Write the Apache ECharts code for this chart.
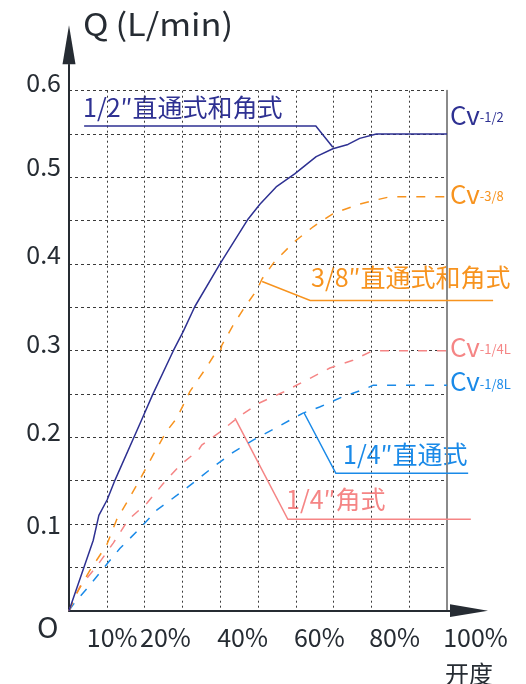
<!DOCTYPE html>
<html>
<head>
<meta charset="utf-8">
<script src="https://cdn.jsdelivr.net/npm/echarts@6/dist/echarts.min.js"></script>
<style>
html,body{margin:0;padding:0;background:#fff;}
#c{width:526px;height:684px;}
</style>
</head>
<body>
<div id="c"></div>
<script>
// ---- data (x: opening %, y: Q L/min) ----
const half = [[0,0],[6.4,0.081],[7.9,0.110],[10.1,0.128],[12.2,0.151],[19.2,0.22],[22.1,0.249],[27.6,0.30],[30.2,0.322],[33.3,0.351],[39.9,0.40],[47.4,0.452],[50.5,0.469],[54.8,0.489],[59.7,0.504],[65.4,0.524],[69.8,0.533],[73.8,0.538],[76.9,0.545],[81.3,0.55],[100,0.55]];
const threeEighth = [[0,0],[2,0.02],[5.6,0.047],[10,0.076],[12.6,0.105],[16.1,0.131],[19.2,0.155],[22.3,0.18],[25.8,0.207],[28.5,0.222],[32,0.253],[36.4,0.281],[38.7,0.297],[40,0.298],[40.4,0.306],[43.5,0.33],[46.6,0.351],[49.7,0.37],[51.1,0.383],[54.4,0.403],[59.7,0.426],[64.6,0.443],[69.8,0.458],[76,0.468],[80.3,0.473],[84.8,0.4775],[100,0.4775]];
const quarterAngle = [[0,0],[2.9,0.028],[7.3,0.051],[11.7,0.078],[15.7,0.105],[20.6,0.124],[25,0.147],[29.4,0.168],[34.2,0.185],[35.1,0.191],[39.9,0.206],[45,0.224],[50.5,0.24],[56.6,0.252],[62.8,0.266],[69,0.28],[75.1,0.289],[80.4,0.30],[100,0.30]];
const quarterStraight = [[0,0],[1.1,0.007],[5.6,0.03],[9.5,0.051],[13.5,0.072],[18.3,0.093],[23.2,0.116],[28.5,0.133],[33.3,0.149],[38.2,0.166],[43.5,0.183],[48.8,0.197],[51.3,0.203],[56,0.214],[61.9,0.228],[66.3,0.235],[72.5,0.247],[77.8,0.255],[80.4,0.26],[100,0.26]];

// annotation pointer lines (data coords)
const ptrHalf = [[4.0,0.5593],[65.3,0.5593],[69.8,0.5347]];
const ptrThree = [[51.1,0.3799],[63.8,0.3579],[112.2,0.3579]];
const ptrQS = [[62.2,0.2281],[70.6,0.1585],[105.6,0.1585]];
const ptrQA = [[43.9,0.2223],[57.9,0.1055],[106.3,0.1055]];

// tick labels
const xLabelText = ['10%','20%','40%','60%','80%','100%'];
const xLabelPos = [4.7,18.8,39.2,59.5,79.4,99];
const yLabelText = ['0.1','0.2','0.3','0.4','0.5','0.6'];
const yLabelPos = [0.0989,0.2068,0.3085,0.4114,0.5123,0.6097];

const FONT = '"Noto Sans CJK SC","Noto Sans",sans-serif';
const C_HALF = '#2e3192', C_THREE = '#f7931e', C_QA = '#f58585', C_QS = '#1a8ae8';
const AX = '#262c33';

const chart = echarts.init(document.getElementById('c'), null, {renderer:'canvas'});

function cvLabel(sub, color, offY){
  return {
    show:true, distance:3, offset:[0,offY],
    formatter:'{a|Cv}{b|'+sub+'}',
    rich:{
      a:{fontSize:26, color:color, fontFamily:FONT},
      b:{fontSize:13, color:color, fontFamily:FONT, verticalAlign:'bottom', padding:[0,0,4,0]}
    }
  };
}
function dataLine(data, color, dashed, sub, offY){
  return {
    type:'line', xAxisIndex:0, yAxisIndex:0, data:data, showSymbol:false, symbol:'none',
    lineStyle:{color:color, width:1.5, type: dashed ? [9,10] : 'solid'},
    endLabel: cvLabel(sub, color, offY), animation:false, z:5
  };
}
const arrowPath = 'path://M5,0L10,30L0,30Z';

const texts = [
  {type:'text', id:'t0', x:83, y:9, scaleX:1.11, style:{text:'Q\u2009(L/min)', fontSize:31, fill:AX, fontFamily:FONT, verticalAlign:'top'}},
  {type:'text', id:'t1', left:37, top:612, style:{text:'O', fontSize:29, fill:AX, fontFamily:FONT}},
  {type:'text', id:'t2', left:445, top:662, style:{text:'开度', fontSize:24, fill:AX, fontFamily:FONT}},
  {type:'text', id:'t3', left:83, top:95, style:{text:'1/2″直通式和角式', fontSize:25, fill:C_HALF, fontFamily:FONT}},
  {type:'text', id:'t4', left:311, top:265, style:{text:'3/8″直通式和角式', fontSize:25, fill:C_THREE, fontFamily:FONT}},
  {type:'text', id:'t5', left:343, top:442, style:{text:'1/4″直通式', fontSize:25, fill:C_QS, fontFamily:FONT}},
  {type:'text', id:'t6', left:286, top:487, style:{text:'1/4″角式', fontSize:25, fill:C_QA, fontFamily:FONT}}
];

const option = {
  backgroundColor:'#fff',
  animation:false,
  grid:[
    {left:69, right:79, top:90.7, bottom:73.3},
    {left:69, right:76, top:64.7, bottom:73.3}
  ],
  xAxis:[
    {gridIndex:0, type:'value', min:0, max:100, interval:10,
     axisLine:{show:false}, axisTick:{show:false}, axisLabel:{show:false},
     splitLine:{show:true, lineStyle:{color:'#3a3a3a', width:1, type:[2,3]}}},
    {gridIndex:1, type:'value', min:0, max:100.79,
     axisLine:{show:true, lineStyle:{color:AX, width:2}, symbol:['none', arrowPath], symbolSize:[14,38], symbolOffset:[0,19]},
     axisTick:{show:false}, splitLine:{show:false},
     axisLabel:{show:true, customValues:xLabelPos, align:'left', margin:14, fontSize:25, color:AX, fontFamily:FONT,
       formatter:function(v){ const i = xLabelPos.indexOf(v); return i>=0 ? xLabelText[i] : ''; }}}
  ],
  yAxis:[
    {gridIndex:0, type:'value', min:0, max:0.6, interval:0.05,
     axisLine:{show:false}, axisTick:{show:false}, axisLabel:{show:false},
     splitLine:{show:true, lineStyle:{color:'#3a3a3a', width:1, type:[3,3]}}},
    {gridIndex:0, type:'value', min:0, max:0.6, position:'right',
     axisLine:{show:true, lineStyle:{color:'#8a8a8a', width:2}},
     axisTick:{show:false}, axisLabel:{show:false}, splitLine:{show:false}},
    {gridIndex:1, type:'value', min:0, max:0.63,
     axisLine:{show:true, lineStyle:{color:AX, width:2}, symbol:['none', arrowPath], symbolSize:[13,40], symbolOffset:[0,20]},
     axisTick:{show:false}, splitLine:{show:false},
     axisLabel:{show:true, customValues:yLabelPos, margin:8, fontSize:25, color:AX, fontFamily:FONT,
       formatter:function(v){ const i = yLabelPos.indexOf(v); return i>=0 ? yLabelText[i] : ''; }}}
  ],
  graphic: texts,
  series:[
    dataLine(quarterStraight, C_QS, true, '-1/8L', -4),
    dataLine(quarterAngle, C_QA, true, '-1/4L', -4),
    dataLine(threeEighth, C_THREE, true, '-3/8', -3),
    dataLine(half, C_HALF, false, '-1/2', -19)
  ]
};
chart.setOption(option);

// pointer lines mapped through the chart's own scales (extrapolated past the axis end)
function toPx(arr){ return arr.map(function(p){ return chart.convertToPixel({xAxisIndex:0, yAxisIndex:0}, p); }); }
const ptrs = [[ptrHalf,C_HALF],[ptrThree,C_THREE],[ptrQS,C_QS],[ptrQA,C_QA]];
chart.setOption({
  graphic: texts.concat(ptrs.map(function(pc, i){
    return {type:'polyline', id:'p'+i, z:4, shape:{points:toPx(pc[0])}, style:{stroke:pc[1], lineWidth:1.5, fill:null}};
  }))
});
</script>
</body>
</html>
